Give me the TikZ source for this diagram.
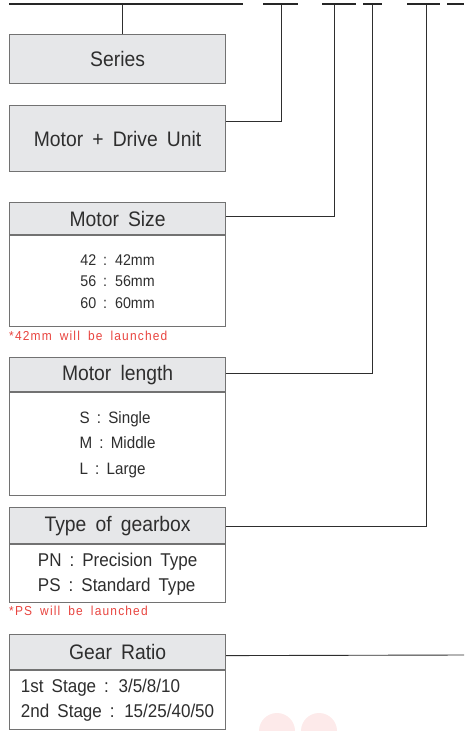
\documentclass[tikz,border=0pt]{standalone}
\usepackage{fontspec}
\setmainfont{Liberation Sans}[FakeStretch=0.92,WordSpace=1.7]
\newfontfamily\notefont{Liberation Sans}[FakeStretch=0.92,LetterSpace=9,WordSpace=1.8]
\usetikzlibrary{positioning}
\definecolor{boxgray}{HTML}{E6E7E9}
\definecolor{edgegray}{HTML}{727272}
\definecolor{inkgray}{HTML}{2E2E2E}
\definecolor{notered}{HTML}{E8443F}
\definecolor{wmpink}{HTML}{FDEAEA}
\tikzset{hd/.style={draw=edgegray, line width=1.2pt, fill=boxgray, text=inkgray, minimum width=216pt, inner sep=0pt, anchor=north west, font=\fontsize{21}{24}\selectfont}}
\tikzset{bd/.style={draw=edgegray, line width=1.2pt, fill=white, text=inkgray, minimum width=216pt, inner sep=0pt, align=left}}
\tikzset{note/.style={anchor=west, inner sep=0pt, text=notered, font=\notefont\fontsize{13}{15}\selectfont}}
\tikzset{conn/.style={draw=inkgray, line width=0.9pt}}
\tikzset{bar/.style={draw=black!85, line width=2.6pt}}

\begin{document}
\begin{tikzpicture}[x=1pt, y=-1pt]
\useasboundingbox (0,0) rectangle (464,731);

% watermark, cut by the page edge
\fill[wmpink] (277,731) circle (18pt);
\fill[wmpink] (319,731) circle (18pt);

% code bars
\draw[bar] (9,4) -- (243,4);
\draw[bar] (263,4) -- (298,4);
\draw[bar] (322,4) -- (356,4);
\draw[bar] (363,4) -- (382,4);
\draw[bar] (407,4) -- (440,4);
\draw[bar] (447,4) -- (464,4);
\coordinate (b1) at (122,5);
\coordinate (b2) at (281,5);
\coordinate (b3) at (334,5);
\coordinate (b4) at (372,5);
\coordinate (b5) at (426,5);
\coordinate (b6) at (464,655);

% boxes
\node[hd, minimum height=49pt] (ser) at (9,34) {Series};
\node[hd, minimum height=66pt] (mdu) at (9,105) {Motor + Drive Unit};

\node[hd, minimum height=32pt] (msz) at (9,202) {Motor Size};
\node[bd, minimum height=91pt, below=0pt of msz, font=\fontsize{15.5}{21.5}\selectfont] (mszb)
 {42 : 42mm\\56 : 56mm\\60 : 60mm};
\node[note] (msn) at (9,336) {*42mm will be launched};

\node[hd, minimum height=34pt] (mln) at (9,357) {Motor length};
\node[bd, minimum height=103pt, below=0pt of mln, font=\fontsize{16.5}{25.5}\selectfont] (mlnb)
 {S : Single\\M : Middle\\L : Large};

\node[hd, minimum height=36pt] (gbx) at (9,507) {Type of gearbox};
\node[bd, minimum height=58pt, below=0pt of gbx, font=\fontsize{18.5}{25}\selectfont] (gbxb)
 {PN : Precision Type\\PS : Standard Type};
\node[note] (gbn) at (9,611) {*PS will be launched};

\node[hd, minimum height=35pt] (grt) at (9,634) {Gear Ratio};
\node[bd, minimum height=59pt, below=0pt of grt, font=\fontsize{18.5}{25}\selectfont] (grtb)
 {1st Stage : 3/5/8/10\\2nd Stage : 15/25/40/50};

% connectors
\draw[conn] (ser.north -| b1) -- (b1);
\draw[conn] ([yshift=17pt]mdu.east) -| (b2);
\draw[conn] ([yshift=2pt]msz.east) -| (b3);
\draw[conn] ([yshift=1pt]mln.east) -| (b4);
\draw[conn] ([yshift=-1pt]gbx.east) -| (b5);
\draw[conn] ([yshift=-3.5pt]grt.east) -- (b6);
\end{tikzpicture}
\end{document}
